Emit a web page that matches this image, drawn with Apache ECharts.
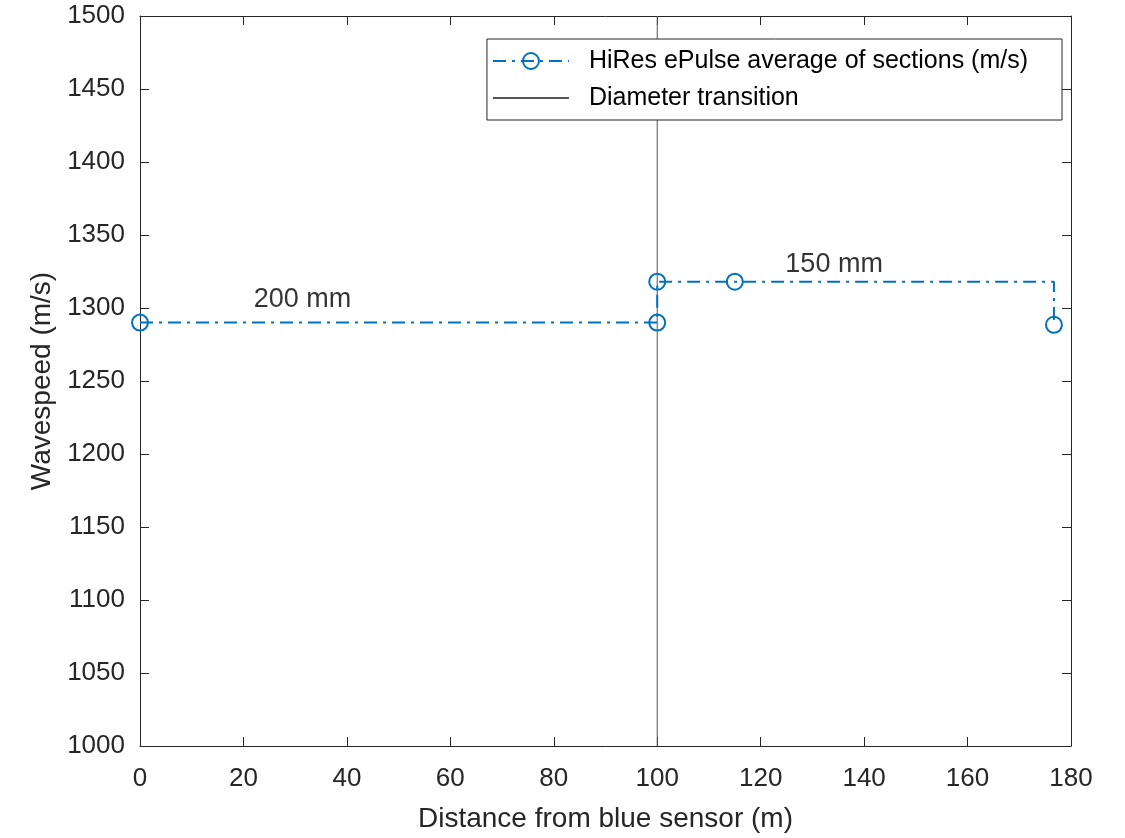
<!DOCTYPE html>
<html>
<head>
<meta charset="utf-8">
<script src="https://cdn.jsdelivr.net/npm/echarts@6/dist/echarts.min.js"></script>
<style>
  html, body { margin: 0; padding: 0; background: #fff; }
  #chart { width: 1125px; height: 838px; }
</style>
</head>
<body>
<div id="chart"></div>
<script>
// step profile of section averages (distance m, wavespeed m/s)
const stepX = [0, 100, 100, 115, 176.7, 176.7];
const stepY = [1290, 1290, 1318, 1318, 1318, 1288.5];
// the corner at the far end has no marker
const stepMarker = [true, true, true, true, false, true];

const transitionX = 100;

const labelText = ["200 mm", "150 mm"];
const labelX = [31.4, 134.2];
const labelY = [1306, 1329.5];

const xTicks = { min: 0, max: 180, step: 20 };
const yTicks = { min: 1000, max: 1500, step: 50 };

const blue = "#0072BD";
const ink = "#262626";
const font = "Liberation Sans";

let chart = echarts.init(document.getElementById("chart"));

let stepData = stepX.map(function (x, i) {
  let item = { value: [x, stepY[i]] };
  if (!stepMarker[i]) item.symbol = "none";
  return item;
});

let noteData = labelText.map(function (t, i) {
  return { value: [labelX[i], labelY[i]], name: t };
});

function plain(v) {
  return String(v);
}

function xAxisCfg(pos, showLabel) {
  return {
    type: "value",
    position: pos,
    min: xTicks.min,
    max: xTicks.max,
    interval: xTicks.step,
    name: showLabel ? "Distance from blue sensor (m)" : "",
    nameLocation: "middle",
    nameGap: 59,
    nameTextStyle: { fontFamily: font, fontSize: 28, color: ink },
    axisLine: { show: true, onZero: false, lineStyle: { color: ink, width: 1 } },
    axisTick: { show: true, inside: true, length: 9, lineStyle: { color: ink } },
    axisLabel: { show: showLabel, fontFamily: font, fontSize: 26, color: ink, margin: 20, formatter: plain },
    splitLine: { show: false },
  };
}

function yAxisCfg(pos, showLabel) {
  return {
    type: "value",
    position: pos,
    min: yTicks.min,
    max: yTicks.max,
    interval: yTicks.step,
    name: showLabel ? "Wavespeed (m/s)" : "",
    nameLocation: "middle",
    nameGap: 83,
    nameTextStyle: { fontFamily: font, fontSize: 28, color: ink },
    axisLine: { show: true, onZero: false, lineStyle: { color: ink, width: 1 } },
    axisTick: { show: true, inside: true, length: 9, lineStyle: { color: ink } },
    axisLabel: { show: showLabel, fontFamily: font, fontSize: 26, color: ink, margin: 15, padding: [6, 0, 0, 0], formatter: plain },
    splitLine: { show: false },
  };
}

let option = {
  animation: false,
  backgroundColor: "#fff",
  grid: { left: 140, right: 54, top: 16, bottom: 89 },
  legend: {
    right: 63,
    top: 39,
    orient: "vertical",
    align: "left",
    backgroundColor: "#fff",
    borderColor: ink,
    borderWidth: 1,
    borderRadius: 0,
    padding: [9, 34, 9, 5],
    itemGap: 11,
    itemWidth: 76,
    itemHeight: 20,
    textStyle: { fontFamily: font, fontSize: 25, lineHeight: 26, color: "#000", padding: [0, 0, 0, 15] },
    data: [
      "HiRes ePulse average of sections (m/s)",
      { name: "Diameter transition", itemStyle: { opacity: 0 } },
    ],
  },
  xAxis: [xAxisCfg("bottom", true), xAxisCfg("top", false)],
  yAxis: [yAxisCfg("left", true), yAxisCfg("right", false)],
  series: [
    {
      name: "Diameter transition",
      type: "line",
      data: [[transitionX, yTicks.min], [transitionX, yTicks.max]],
      symbol: "none",
      lineStyle: { color: "#555", width: 1 },
      itemStyle: { color: "#555" },
      z: 2,
    },
    {
      name: "HiRes ePulse average of sections (m/s)",
      type: "line",
      data: stepData,
      symbol: "circle",
      symbolSize: 16,
      showAllSymbol: true,
      lineStyle: { color: blue, width: 2, type: [13, 6, 3, 6] },
      itemStyle: { color: "rgba(255,255,255,0)", borderColor: blue, borderWidth: 2 },
      z: 3,
    },
    {
      name: "notes",
      type: "scatter",
      data: noteData,
      symbolSize: 0,
      silent: true,
      label: {
        show: true,
        position: "inside",
        formatter: "{b}",
        fontFamily: font,
        fontSize: 27,
        color: "#000",
      },
      z: 4,
    },
  ],
};

chart.setOption(option);
</script>
</body>
</html>
